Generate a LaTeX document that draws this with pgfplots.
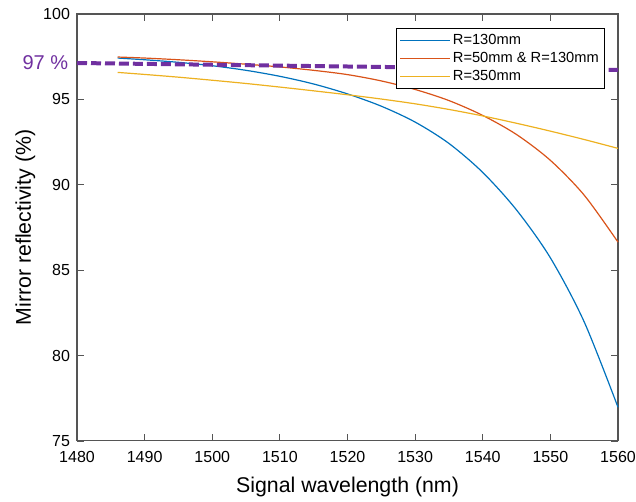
\documentclass[border=0pt]{standalone}
\usepackage{pgfplots}
\pgfplotsset{compat=1.18}
\usepackage{fontspec}
\setmainfont{Liberation Sans}
\definecolor{mblue}{HTML}{0072BD}
\definecolor{morange}{HTML}{D95319}
\definecolor{myellow}{HTML}{EDB120}
\definecolor{mpurple}{HTML}{7030A0}
\definecolor{axgray}{HTML}{555555}
\begin{document}
\begin{tikzpicture}
\begin{axis}[
  scale only axis, width=406pt, height=320.4pt,
  xmin=1480, xmax=1560, ymin=75, ymax=100,
  xtick={1480,1490,...,1560}, ytick={75,80,...,100},
  /pgf/number format/assume math mode=true,
  /pgf/number format/1000 sep={},
  tick label style={font=\fontsize{12}{14}\selectfont},
  xticklabel style={yshift=-4.5pt},
  yticklabel style={xshift=-1.8pt},
  xlabel={Signal wavelength (nm)},
  ylabel={Mirror reflectivity (\%)},
  every axis x label/.style={at={(rel axis cs:0.5,0)}, anchor=center, yshift=-34.5pt, font=\fontsize{16}{18}\selectfont},
  every axis y label/.style={at={(rel axis cs:0,0.5)}, anchor=south, rotate=90, yshift=27.7pt, font=\fontsize{16}{18}\selectfont},
  axis line style={axgray, line width=0.8pt},
  tick style={axgray, line width=0.6pt},
  tick align=inside, major tick length=5pt,
  legend style={at={(0.976,0.967)}, anchor=north east, font=\fontsize{11}{13}\selectfont, inner sep=2.5pt, row sep=0.3pt},
  legend cell align=left,
  legend image code/.code={\draw[#1] (0pt,0pt) -- (37pt,0pt);},
  clip=false,
]
\addplot[mblue, line width=0.9pt, smooth] coordinates {
(1486,97.42) (1490,97.32) (1495,97.17) (1500,96.97) (1505,96.70) (1510,96.35) (1515,95.90) (1520,95.32) (1525,94.60) (1530,93.67) (1535,92.42) (1540,90.72) (1545,88.52) (1550,85.72) (1555,81.97) (1560,76.97)};
\addlegendentry{R=130mm}
\addplot[morange, line width=0.9pt, smooth] coordinates {
(1486,97.48) (1490,97.42) (1495,97.32) (1500,97.20) (1505,97.06) (1510,96.90) (1515,96.70) (1520,96.45) (1525,96.08) (1530,95.58) (1535,94.93) (1540,94.06) (1545,92.94) (1550,91.43) (1555,89.39) (1560,86.64)};
\addlegendentry{R=50mm \& R=130mm}
\addplot[myellow, line width=0.9pt, smooth] coordinates {
(1486,96.58) (1490,96.46) (1495,96.30) (1500,96.12) (1505,95.93) (1510,95.72) (1515,95.50) (1520,95.27) (1525,95.02) (1530,94.74) (1535,94.41) (1540,94.03) (1545,93.60) (1550,93.14) (1555,92.65) (1560,92.13)};
\addlegendentry{R=350mm}
\addplot[mpurple, line width=3pt, dash pattern=on 7.5pt off 3pt, forget plot] coordinates {(1480,97.13) (1560,96.72)};
\node[anchor=east, font=\fontsize{15}{17}\selectfont, inner sep=0pt, xshift=-6.5pt] at (axis cs:1480,97.13) {\textcolor{mpurple}{97 \%}};
\end{axis}
\pgfresetboundingbox
\path ([xshift=-57.8pt, yshift=-45.8pt]current axis.south west) rectangle ([xshift=13.5pt, yshift=10.5pt]current axis.north east);
\end{tikzpicture}
\end{document}
